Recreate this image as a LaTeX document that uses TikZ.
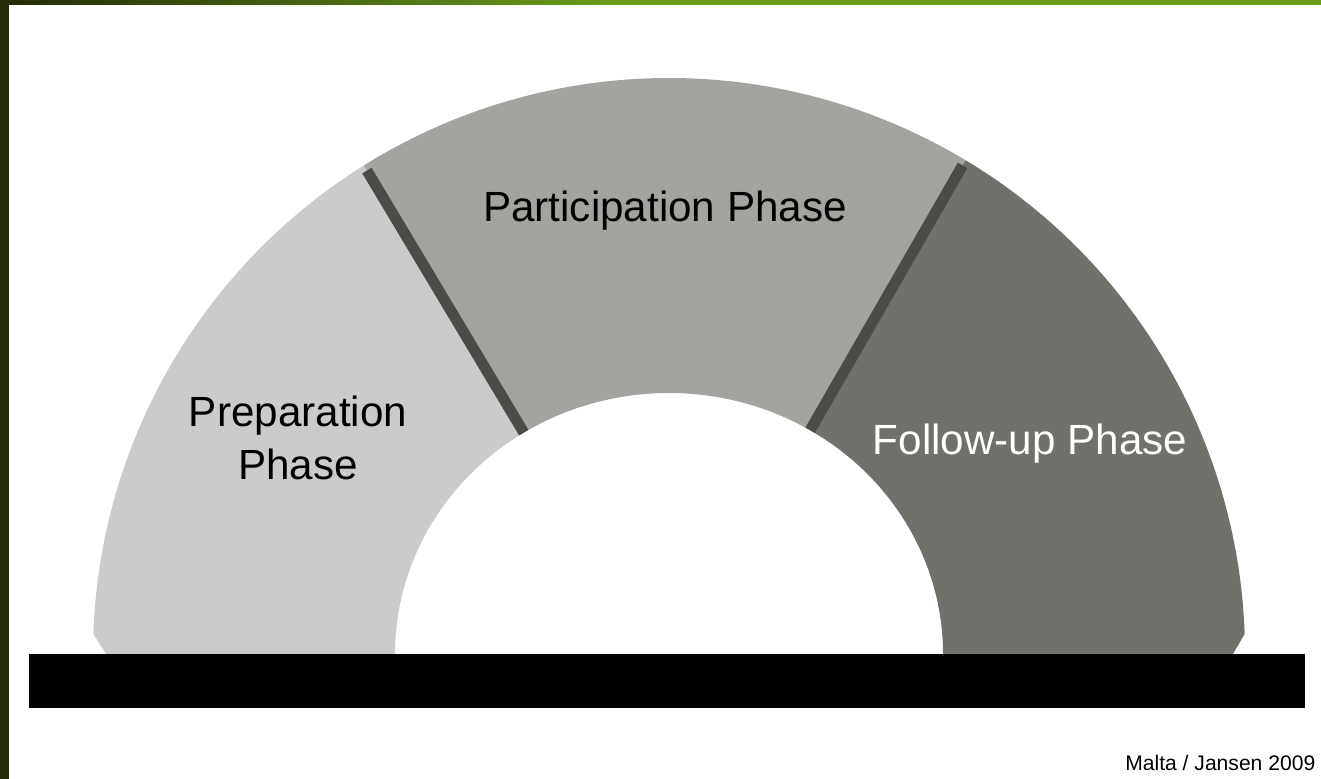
\documentclass[tikz,border=0pt]{standalone}
\usepackage{fontspec}
\setmainfont{Liberation Sans}
\usetikzlibrary{calc}

\definecolor{prepgray}{HTML}{CBCBCB}
\definecolor{partgray}{HTML}{A3A39F}
\definecolor{followgray}{HTML}{71716B}
\definecolor{dividergray}{HTML}{4B4B47}
\definecolor{darkolive}{HTML}{242C0A}
\definecolor{leafgreen}{HTML}{699A1A}

\tikzset{
  phase/.style={font=\fontsize{12}{15}\selectfont, align=center, inner sep=0pt},
  divider/.style={dividergray, line width=3.1pt}
}

\begin{document}
\begin{tikzpicture}[x=0.01cm,y=0.01cm]
  \useasboundingbox (0,0) rectangle (1321,779);
  \coordinate (o) at (669,125);

  % frame strips
  \fill[darkolive] (0,0) rectangle (9,779);
  \shade[left color=darkolive, right color=leafgreen] (9,774) rectangle (600,779);
  \fill[leafgreen] (600,774) rectangle (1321,779);

  % the three phases
  \fill[prepgray] ($(o)+(-563,0)$) -- ($(o)+(178:576)$)
    arc[start angle=178, end angle=122, radius=576]
    -- ($(o)+(122:274 and 261)$)
    arc[start angle=122, end angle=180, x radius=274, y radius=261] -- cycle;
  \fill[partgray] ($(o)+(122:576)$)
    arc[start angle=122, end angle=59, radius=576]
    -- ($(o)+(59:274 and 261)$)
    arc[start angle=59, end angle=122, x radius=274, y radius=261] -- cycle;
  \fill[followgray] ($(o)+(564,0)$) -- ($(o)+(2:576)$)
    arc[start angle=2, end angle=59, radius=576]
    -- ($(o)+(59:274 and 261)$)
    arc[start angle=59, end angle=0, x radius=274, y radius=261] -- cycle;

  \draw[divider] ($(o)+(122:274 and 261)$) -- ($(o)+(122:570)$);
  \draw[divider] ($(o)+(59:274 and 261)$) -- ($(o)+(59:570)$);

  % base
  \fill[black] (29,71) rectangle (1305,125);

  \node[phase] (prep) at (298,341) {Preparation\\Phase};
  \node[phase, anchor=base] (part) at (665,557) {Participation Phase};
  \node[phase, anchor=base, text=white] (follow) at (1030,324) {Follow-up Phase};
  \node[anchor=base east, inner sep=0pt, font=\fontsize{6}{7}\selectfont] (credit) at (1316,8) {Malta / Jansen 2009};
\end{tikzpicture}
\end{document}
